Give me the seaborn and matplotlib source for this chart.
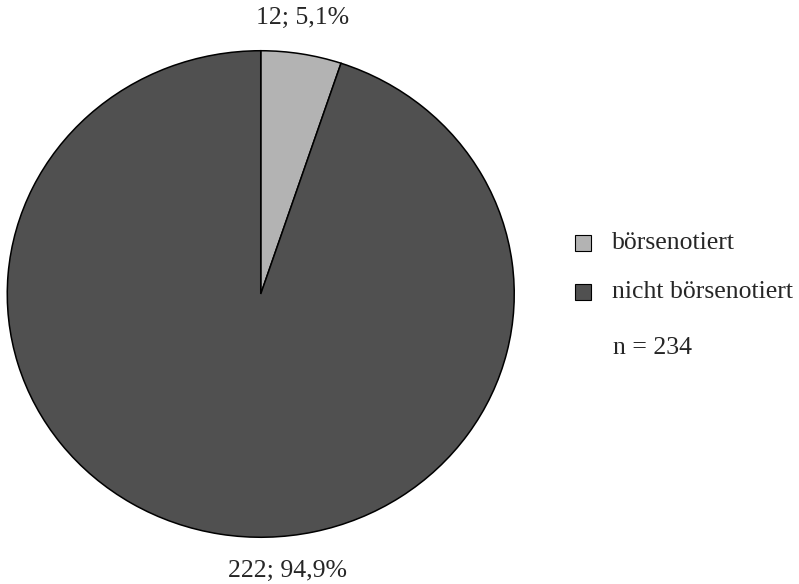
import matplotlib
matplotlib.use("Agg")
import matplotlib.pyplot as plt
from matplotlib.patches import Rectangle
import seaborn as sns

categories = ["börsenotiert", "nicht börsenotiert"]
counts = [12, 222]
percent_labels = ["5,1%", "94,9%"]
total_label = "n = 234"
colors = ["#b3b3b3", "#505050"]

sns.set_theme(style="white")
plt.rcParams["font.family"] = ["Liberation Serif", "DejaVu Serif"]

W, H = 799, 584
fig = plt.figure(figsize=(W / 100, H / 100), dpi=100)

# pie area in pixels (left, top, right, bottom)
pl, pt, pr, pb = 6.5, 50, 515, 538
ax = fig.add_axes([pl / W, (H - pb) / H, (pr - pl) / W, (pb - pt) / H])
ax.pie(counts, colors=colors, startangle=90, counterclock=False,
       wedgeprops=dict(edgecolor="black", linewidth=1.1))
ax.set_aspect("auto")
ax.set_xlim(-1.003, 1.003)
ax.set_ylim(-1.003, 1.003)
ax.axis("off")

fs = 18.5


def px(x, y):
    return x / W, 1 - y / H


# value labels
for (x, y), c, p in zip([(303, 18), (287, 571)], counts, percent_labels):
    fig.text(*px(x, y), f"{c}; {p}", ha="center", va="center", fontsize=fs)

# legend
for i, (cat, col) in enumerate(zip(categories, colors)):
    yc = 243 + i * 49
    fig.add_artist(Rectangle(px(575, yc + 8), 16 / W, 16 / H,
                             transform=fig.transFigure, facecolor=col,
                             edgecolor="black", linewidth=0.8))
    fig.text(*px(612, yc), cat, ha="left", va="center", fontsize=fs)

fig.text(*px(613, 348), total_label, ha="left", va="center", fontsize=fs)

fig.savefig("out.png", dpi=100, facecolor="white")
